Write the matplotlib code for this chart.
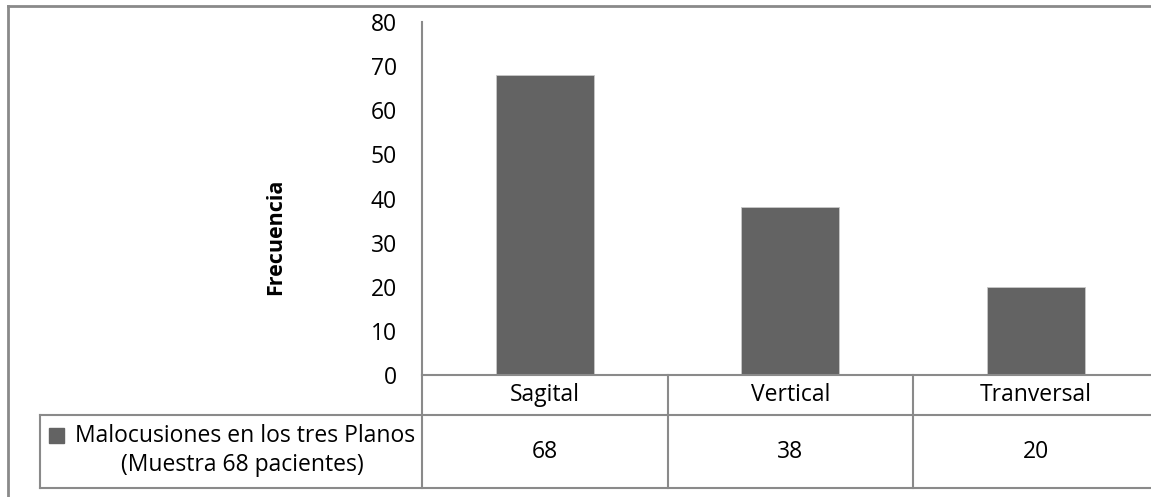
import matplotlib
matplotlib.use("Agg")
import matplotlib.pyplot as plt
from matplotlib.transforms import blended_transform_factory
from matplotlib.lines import Line2D
from matplotlib.patches import Rectangle

categories = ["Sagital", "Vertical", "Tranversal"]
values = [68, 38, 20]
series_line1 = "Malocusiones en los tres Planos"
series_line2 = "(Muestra 68 pacientes)"
y_label = "Frecuencia"
y_ticks = [0, 10, 20, 30, 40, 50, 60, 70, 80]

W, H = 1151, 497
DPI = 100
plt.rcParams['font.family'] = ['Open Sans', 'DejaVu Sans']

fig = plt.figure(figsize=(W / DPI, H / DPI), dpi=DPI)
fig.patch.set_facecolor("white")

grey = "#8a8a8a"
bar_color = "#636363"
fs = 16.5

# axes in pixel placement
ax_left, ax_top, ax_bottom = 422, 22, 375
cat_w = 245.5
ax_right = ax_left + cat_w * len(categories)
ax = fig.add_axes([ax_left / W, (H - ax_bottom) / H,
                   (ax_right - ax_left) / W, (ax_bottom - ax_top) / H])
ax.set_xlim(-0.5, len(categories) - 0.5)
ax.set_ylim(0, 80)
ax.bar(range(len(categories)), values, width=0.4, color=bar_color,
       edgecolor="#c8c8c8", linewidth=0.6)
ax.set_yticks(y_ticks)
ax.set_yticklabels([str(t) for t in y_ticks], fontsize=fs, color="black")
ax.tick_params(axis='y', length=0, pad=18)
ax.set_xticks([])
for s in ["top", "right"]:
    ax.spines[s].set_visible(False)
ax.spines["left"].set_color(grey)
ax.spines["left"].set_linewidth(1.5)
ax.spines["bottom"].set_color(grey)
ax.spines["bottom"].set_linewidth(1.5)
ax.set_ylabel(y_label, fontsize=15.5, fontweight="bold")
ax.yaxis.set_label_coords((276 - ax_left) / (ax_right - ax_left),
                          (ax_bottom - 237) / (ax_bottom - ax_top))
ax.yaxis.label.set_va("center")

# data table below axes
px_y = 1.0 / (ax_bottom - ax_top)   # axes fraction per pixel
row1 = -(415 - ax_bottom) * px_y
row2 = -(488 - ax_bottom) * px_y
legend_left = -0.5 + (40 - ax_left) / cat_w
tr = blended_transform_factory(ax.transData, ax.transAxes)

def line(xs, ys):
    ax.add_line(Line2D(xs, ys, transform=tr, color=grey, lw=1.5,
                       clip_on=False))

n = len(categories)
for i in range(n + 1):
    line([i - 0.5, i - 0.5], [0, row2])
line([legend_left, n - 0.5], [row1, row1])
line([legend_left, n - 0.5], [row2, row2])
line([legend_left, legend_left], [row1, row2])

for i, (c, v) in enumerate(zip(categories, values)):
    ax.text(i, row1 / 2, c, transform=tr, ha="center", va="center",
            fontsize=fs, clip_on=False)
    ax.text(i, (row1 + row2) / 2, str(v), transform=tr, ha="center",
            va="center", fontsize=fs, clip_on=False)

# legend cell
ax.text(-0.5 + (415 - ax_left) / cat_w, -(436 - ax_bottom) * px_y, series_line1,
        transform=tr, ha="right", va="center", fontsize=fs, clip_on=False)
ax.text(-0.5 + (242 - ax_left) / cat_w, -(465 - ax_bottom) * px_y, series_line2,
        transform=tr, ha="center", va="center", fontsize=fs, clip_on=False)
fig.add_artist(Rectangle((49 / W, (H - 443) / H), 15 / W, 15 / H,
                         transform=fig.transFigure, color=bar_color))

# outer chart border
fig.add_artist(Line2D([8 / W, 8 / W], [0, (H - 6) / H],
                      transform=fig.transFigure, color=grey, lw=2))
fig.add_artist(Line2D([8 / W, 1], [(H - 6) / H, (H - 6) / H],
                      transform=fig.transFigure, color=grey, lw=2))

fig.savefig("out.png", dpi=DPI)
